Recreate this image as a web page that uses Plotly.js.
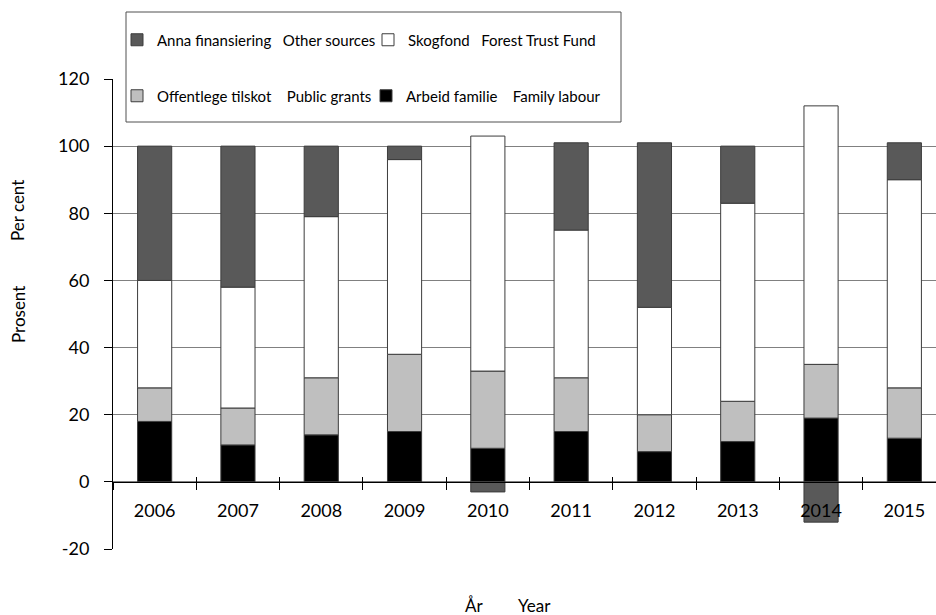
<!DOCTYPE html>
<html>
<head>
<meta charset="utf-8">
<script src="https://cdn.plot.ly/plotly-3.0.1.min.js"></script>
<style>html,body{margin:0;padding:0;background:#fff;}#chart{width:936px;height:615px;}</style>
</head>
<body>
<div id="chart"></div>
<script>
const years = ['2006','2007','2008','2009','2010','2011','2012','2013','2014','2015'];
const arbeidFamilie = [18, 11, 14, 15, 10, 15, 9, 12, 19, 13];
const offentlegeTilskot = [10, 11, 17, 23, 23, 16, 11, 12, 16, 15];
const skogfond = [32, 36, 48, 58, 70, 44, 32, 59, 77, 62];
const annaFinansiering = [40, 42, 21, 4, -3, 26, 49, 17, -12, 11];
const yTicks = [-20, 0, 20, 40, 60, 80, 100, 120];
const NB = '\u00A0';
const names = {
  arbeid: 'Arbeid familie' + NB.repeat(4) + 'Family labour',
  offentlege: 'Offentlege tilskot' + NB.repeat(4) + 'Public grants',
  skogfond: 'Skogfond' + NB.repeat(3) + 'Forest Trust Fund',
  anna: 'Anna finansiering' + NB.repeat(3) + 'Other sources'
};

const outline = {color: '#3c3c3c', width: 1};
function bar(y, name, color, legend) {
  return {type: 'bar', x: years, y: y, name: name, legend: legend,
    marker: {color: color, line: outline}, hoverinfo: 'x+y+name'};
}
const data = [
  bar(arbeidFamilie, names.arbeid, '#000000', 'legend4'),
  bar(offentlegeTilskot, names.offentlege, '#bfbfbf', 'legend3'),
  bar(skogfond, names.skogfond, '#ffffff', 'legend2'),
  bar(annaFinansiering, names.anna, '#595959', 'legend'),
  // invisible copy on an overlaid category axis, only to draw the upper half of the crossing x ticks
  {type: 'bar', x: years, y: arbeidFamilie, xaxis: 'x2', opacity: 0, showlegend: false, hoverinfo: 'skip'}
];

const L = 113, PW = 823, T = 79, PH = 470;
const px = v => (v - L) / PW;
const py = v => (T + PH - v) / PH;
const font = {family: 'Lato, "Open Sans", sans-serif', color: '#000'};
const f = s => Object.assign({size: s}, font);
function leg(xPix, yPix) {
  return {orientation: 'h', x: px(xPix), xanchor: 'left', y: py(yPix), yanchor: 'middle',
    bgcolor: 'rgba(0,0,0,0)', borderwidth: 0, font: f(15)};
}

const layout = {
  width: 936, height: 615,
  margin: {l: L, r: 0, t: T, b: 615 - T - PH, pad: 0},
  paper_bgcolor: '#fff', plot_bgcolor: '#fff',
  barmode: 'relative', bargap: 0.59,
  font: f(16),
  xaxis: {type: 'category', range: [-0.5, 9.38], anchor: 'free', position: 20 / 140,
    showline: true, linecolor: '#000', linewidth: 1, showgrid: false, zeroline: false,
    ticks: 'outside', tickson: 'boundaries', ticklen: 7, tickcolor: '#000',
    ticklabelstandoff: 13, tickfont: f(18)},
  xaxis2: {type: 'category', overlaying: 'x', anchor: 'free', position: 20 / 140, range: [-0.5, 9.38],
    tickson: 'boundaries', ticks: 'inside', ticklen: 5, tickcolor: '#000',
    showticklabels: false, showline: false, showgrid: false, zeroline: false},
  yaxis: {range: [-20, 120], tickvals: yTicks, ticktext: yTicks.map(String),
    showline: true, linecolor: '#000', linewidth: 1,
    ticks: 'outside', ticklen: 8, tickcolor: '#000', showgrid: true, gridcolor: '#808080', gridwidth: 1,
    zeroline: false, ticklabelstandoff: 11, tickfont: f(18)},
  showlegend: true,
  legend: leg(117, 40),
  legend2: leg(368, 40),
  legend3: leg(117, 96),
  legend4: leg(366, 96),
  shapes: [{type: 'rect', xref: 'paper', yref: 'paper', x0: px(126), x1: px(621), y0: py(122), y1: py(12),
    fillcolor: '#fff', line: {color: '#505050', width: 1}, layer: 'above'}],
  annotations: [
    {xref: 'paper', yref: 'paper', x: px(18), y: py(211), xanchor: 'center', yanchor: 'middle', text: 'Per cent', textangle: -90, showarrow: false, font: f(17)},
    {xref: 'paper', yref: 'paper', x: px(18), y: py(315), xanchor: 'center', yanchor: 'middle', text: 'Prosent', textangle: -90, showarrow: false, font: f(17)},
    {xref: 'paper', yref: 'paper', x: px(474), y: py(605), xanchor: 'center', yanchor: 'middle', text: 'År', showarrow: false, font: f(17)},
    {xref: 'paper', yref: 'paper', x: px(534), y: py(605), xanchor: 'center', yanchor: 'middle', text: 'Year', showarrow: false, font: f(17)}
  ]
};

Plotly.newPlot('chart', data, layout, {displayModeBar: false, staticPlot: true});
</script>
</body>
</html>
